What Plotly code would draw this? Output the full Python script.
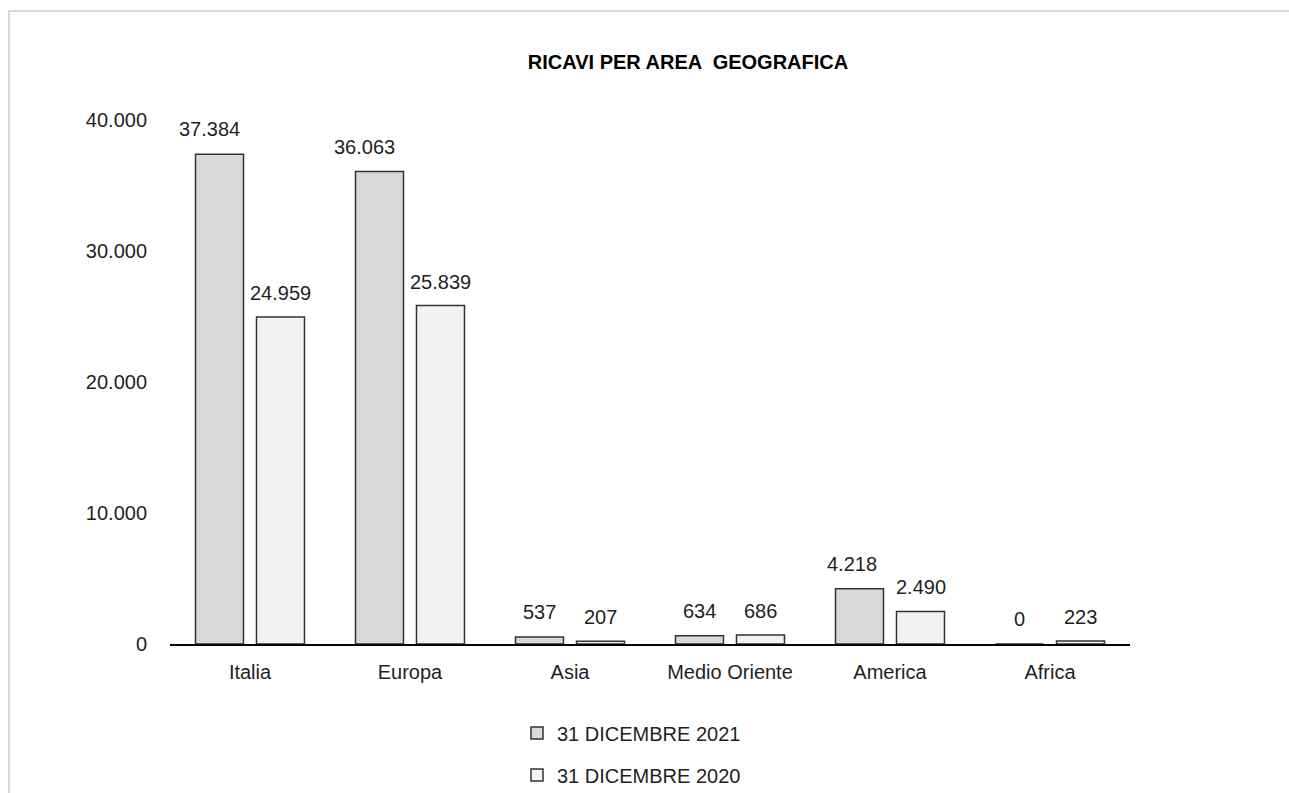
import plotly.graph_objects as go

categories = ["Italia", "Europa", "Asia", "Medio Oriente", "America", "Africa"]
ricavi_2021 = [37384, 36063, 537, 634, 4218, 0]
ricavi_2020 = [24959, 25839, 207, 686, 2490, 223]
series_names = ["31 DICEMBRE 2021", "31 DICEMBRE 2020"]
y_ticks = [0, 10000, 20000, 30000, 40000]
title_text = "RICAVI PER AREA  GEOGRAFICA"

# small horizontal nudges of the 2021 value labels (pixels), as placed in the original
label_dx_2021 = [-10, -15, 0, 0, -8, 0]

FONT = "Liberation Sans, Arial, sans-serif"
TXT = "#1f1f1f"
W, H = 1289, 793
L, R, T, B = 170, 159, 120, 0
pw, ph = W - L - R, H - T - B
AXIS_BOTTOM_PX = 644

def px_x(px):
    return (px - L) / pw

def px_y(py):
    return (H - B - py) / ph

fig = go.Figure()
fig.add_trace(go.Bar(
    x=categories, y=ricavi_2021, name=series_names[0],
    marker=dict(color="#d9d9d9", line=dict(color="#333333", width=1.5)),
    legend="legend",
))
fig.add_trace(go.Bar(
    x=categories, y=ricavi_2020, name=series_names[1],
    marker=dict(color="#f2f2f2", line=dict(color="#333333", width=1.5)),
    legend="legend2",
))

def fmt(v):
    return f"{v:,}".replace(",", ".")

bar_offset = 30.5
for cat, v, dx in zip(categories, ricavi_2021, label_dx_2021):
    fig.add_annotation(x=cat, y=v, text=fmt(v), showarrow=False, xshift=-bar_offset + dx,
                       yshift=25, yanchor="middle", font=dict(family=FONT, size=20, color=TXT))
for cat, v in zip(categories, ricavi_2020):
    fig.add_annotation(x=cat, y=v, text=fmt(v), showarrow=False, xshift=bar_offset,
                       yshift=24, yanchor="middle", font=dict(family=FONT, size=20, color=TXT))

# outer light frame (top and left edges visible)
fig.add_shape(type="rect", xref="paper", yref="paper",
              x0=px_x(9), x1=px_x(W + 20), y0=px_y(H + 20), y1=px_y(11),
              line=dict(color="#d9d9d9", width=2), layer="below")

leg_common = dict(
    orientation="v", xanchor="left",
    font=dict(family=FONT, size=20, color=TXT), bgcolor="rgba(0,0,0,0)",
)

fig.update_layout(
    width=W, height=H,
    margin=dict(l=L, r=R, t=T, b=B, autoexpand=False),
    paper_bgcolor="white", plot_bgcolor="white",
    separators=",.",
    barmode="group", bargap=0.2375, bargroupgap=0.213,
    title=dict(text=f"<b>{title_text}</b>", x=688 / W, xanchor="center",
               y=1 - 62 / H, yanchor="middle", xref="container", yref="container",
               font=dict(family=FONT, size=20, color="#000")),
    font=dict(family=FONT, size=20, color=TXT),
    showlegend=True,
    legend=dict(x=px_x(517), y=px_y(733), yanchor="middle", **leg_common),
    legend2=dict(x=px_x(517), y=px_y(775), yanchor="middle", **leg_common),
    xaxis=dict(showline=True, linecolor="#000", linewidth=2, showgrid=False,
               ticks="", ticklabelstandoff=9,
               tickfont=dict(family=FONT, size=20, color=TXT)),
    yaxis=dict(domain=[px_y(AXIS_BOTTOM_PX), 1], range=[0, 40000], tickvals=y_ticks,
               tickformat=",d", showgrid=False,
               zeroline=False, showline=False, ticks="", ticklabelstandoff=22,
               tickfont=dict(family=FONT, size=20, color=TXT)),
)

fig.write_html("out.html", post_script="document.body.style.margin='0';",
               config={"displayModeBar": False})
